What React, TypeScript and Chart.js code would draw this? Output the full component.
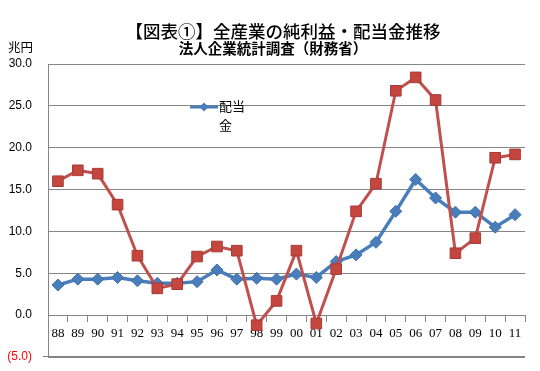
import React, { useEffect, useRef } from 'react';
import { Chart, registerables } from 'chart.js';

Chart.register(...registerables);

const years = ['88', '89', '90', '91', '92', '93', '94', '95', '96', '97', '98', '99', '00', '01', '02', '03', '04', '05', '06', '07', '08', '09', '10', '11'];
const netProfit = [16.0, 17.3, 16.9, 13.2, 7.1, 3.2, 3.7, 7.0, 8.2, 7.7, -1.2, 1.7, 7.7, -1.0, 5.5, 12.4, 15.7, 26.8, 28.4, 25.7, 7.4, 9.2, 18.8, 19.2];
const dividends = [3.6, 4.3, 4.3, 4.5, 4.1, 3.8, 3.8, 4.0, 5.4, 4.3, 4.4, 4.3, 4.9, 4.5, 6.4, 7.2, 8.7, 12.4, 16.2, 14.0, 12.3, 12.3, 10.5, 12.0];
const yMin = -5;
const yMax = 30;
const yStep = 5;

const TITLE = '【図表①】全産業の純利益・配当金推移';
const SUBTITLE = '法人企業統計調査（財務省）';
const UNIT = '兆円';
const LEGEND_LINES = ['配当', '金'];

const BLUE = '#4A7EBB';
const RED = '#C0504D';
const GRID = '#868686';

const overlayPlugin = {
  id: 'overlay',
  afterDraw(chart: any) {
    const ctx = chart.ctx as CanvasRenderingContext2D;
    const area = chart.chartArea;
    const yb = Math.round(chart.scales.y.getPixelForValue(yMin));
    ctx.save();
    ctx.fillStyle = '#7F7F7F';
    ctx.fillRect(area.left - 5, yb - 1, area.right - area.left + 5, 1);

    ctx.fillStyle = '#000';
    ctx.textBaseline = 'middle';
    ctx.textAlign = 'center';
    ctx.font = '500 17.5px "Noto Sans CJK JP"';
    ctx.fillText(TITLE, 283, 31);
    ctx.font = 'bold 14.5px "Noto Sans CJK JP"';
    ctx.fillText(SUBTITLE, 273, 48);
    ctx.textAlign = 'left';
    ctx.font = '12.5px "Noto Sans CJK JP"';
    ctx.fillText(UNIT, 8, 47);

    // legend (dividends only)
    ctx.strokeStyle = BLUE;
    ctx.lineWidth = 3;
    ctx.beginPath();
    ctx.moveTo(190, 107);
    ctx.lineTo(218, 107);
    ctx.stroke();
    ctx.fillStyle = BLUE;
    ctx.beginPath();
    const cx = 204, cy = 107, r = 4.5;
    ctx.moveTo(cx, cy - r);
    ctx.lineTo(cx + r, cy);
    ctx.lineTo(cx, cy + r);
    ctx.lineTo(cx - r, cy);
    ctx.closePath();
    ctx.fill();
    ctx.fillStyle = '#000';
    ctx.font = '13px "Noto Sans CJK JP"';
    ctx.fillText(LEGEND_LINES[0], 219, 106);
    ctx.fillText(LEGEND_LINES[1], 219, 125);
    ctx.restore();
  },
};

export default function App() {
  const ref = useRef<HTMLCanvasElement>(null);
  useEffect(() => {
    if (!ref.current) return;
    const chart = new Chart(ref.current, {
      type: 'line',
      data: {
        labels: years,
        datasets: [
          {
            label: '配当金',
            data: dividends,
            order: 2,
            borderColor: BLUE,
            backgroundColor: BLUE,
            borderWidth: 3.5,
            pointStyle: 'rectRot',
            pointRadius: 6,
            pointBackgroundColor: BLUE,
            pointBorderColor: '#3D6FAE',
            pointBorderWidth: 1,
            tension: 0,
          },
          {
            label: '純利益',
            data: netProfit,
            order: 1,
            borderColor: RED,
            backgroundColor: RED,
            borderWidth: 3,
            pointStyle: 'rect',
            pointRadius: 7.5,
            pointBackgroundColor: '#C4463F',
            pointBorderColor: '#A63A35',
            pointBorderWidth: 1,
            tension: 0,
          },
        ],
      },
      options: {
        responsive: false,
        animation: false,
        devicePixelRatio: 1,
        layout: { padding: { left: 0, top: 64, right: 15, bottom: 14 } },
        plugins: {
          legend: { display: false },
          tooltip: { enabled: false },
          title: { display: false },
        },
        scales: {
          x: {
            position: { y: 0 } as any,
            offset: true,
            grid: {
              display: true,
              drawOnChartArea: false,
              drawTicks: true,
              tickLength: 6,
              offset: true,
              color: GRID,
            },
            border: { display: true, color: GRID, width: 1 },
            ticks: {
              color: '#000',
              font: { family: '"Liberation Serif"', size: 13 },
              padding: 5,
              maxRotation: 0,
              autoSkip: false,
            },
          },
          y: {
            min: yMin,
            max: yMax,
            afterFit: (s: any) => {
              s.width = 48;
              s.paddingTop = 0;
              s.paddingBottom = 0;
            },
            grid: { color: GRID, drawTicks: false, lineWidth: 1 },
            border: { display: true, color: GRID, width: 1 },
            ticks: {
              stepSize: yStep,
              padding: 16,
              font: { family: '"Liberation Sans"', size: 12 },
              color: (c: any) => (c.tick && c.tick.value < 0 ? '#FF0000' : '#000'),
              callback: (v: any) => (v < 0 ? `(${Math.abs(v).toFixed(1)})` : Number(v).toFixed(1)),
            },
          },
        },
      },
      plugins: [overlayPlugin],
    });
    return () => chart.destroy();
  }, []);
  return (
    <div style={{ position: 'absolute', left: 0, top: 0, width: 540, height: 371, background: '#fff', overflow: 'hidden' }}>
      <canvas ref={ref} width={540} height={371} style={{ display: 'block' }} />
    </div>
  );
}
